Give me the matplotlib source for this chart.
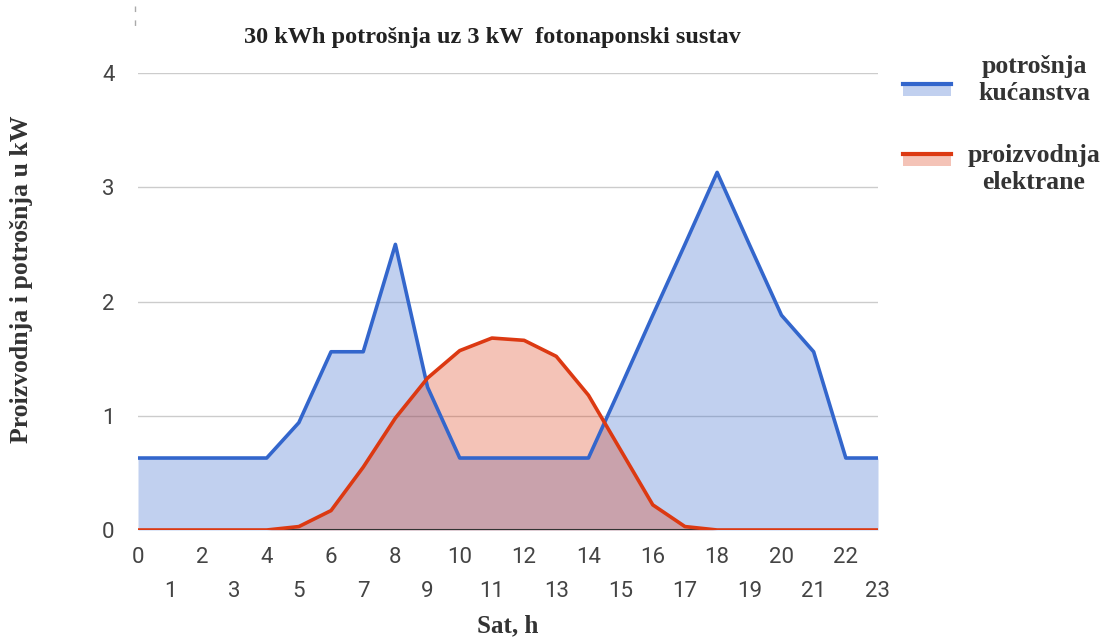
import matplotlib
matplotlib.use("Agg")
import matplotlib.pyplot as plt
from matplotlib.lines import Line2D
from matplotlib.patches import Rectangle

hours = list(range(24))
potrosnja = [0.63, 0.63, 0.63, 0.63, 0.63, 0.94, 1.56, 1.56, 2.50, 1.25, 0.63, 0.63,
             0.63, 0.63, 0.63, 1.25, 1.88, 2.50, 3.13, 2.50, 1.88, 1.56, 0.63, 0.63]
proizvodnja = [0.0, 0.0, 0.0, 0.0, 0.0, 0.03, 0.17, 0.55, 0.98, 1.33, 1.57, 1.68,
               1.66, 1.52, 1.18, 0.70, 0.22, 0.03, 0.0, 0.0, 0.0, 0.0, 0.0, 0.0]
yticks = [0, 1, 2, 3, 4]
title = "30 kWh potrošnja uz 3 kW  fotonaponski sustav"
xlabel = "Sat, h"
ylabel = "Proizvodnja i potrošnja u kW"
legend_labels = ["potrošnja\nkućanstva", "proizvodnja\nelektrane"]

BLUE = "#3366cc"
RED = "#dc3912"
SERIF = "Liberation Serif"
SANS = "Roboto"
W, H = 1109, 639

fig = plt.figure(figsize=(W/100, H/100), dpi=100)
ax = fig.add_axes([138/W, 1-530/H, (878-138)/W, (530-73)/H])

ax.fill_between(hours, potrosnja, 0, color=BLUE, alpha=0.3, linewidth=0, zorder=2)
ax.fill_between(hours, proizvodnja, 0, color=RED, alpha=0.3, linewidth=0, zorder=2)
ax.plot(hours, potrosnja, color=BLUE, lw=2.6, zorder=4)
ax.plot(hours, proizvodnja, color=RED, lw=2.6, zorder=4)

ax.set_xlim(0, 23)
ax.set_ylim(0, 4)
tick_kw = dict(fontfamily=SANS, fontsize=16, color="#444444")
ax.set_yticks(yticks)
ax.set_yticklabels([str(v) for v in yticks], **tick_kw)
ax.grid(axis="y", color="#cccccc", lw=1, zorder=1)
ax.axhline(0, color="#333333", lw=1.5, zorder=3)
ax.set_xticks([h for h in hours if h % 2 == 0])
ax.set_xticklabels([str(h) for h in hours if h % 2 == 0], **tick_kw)
ax.set_xticks([h for h in hours if h % 2 == 1], minor=True)
ax.set_xticklabels([str(h) for h in hours if h % 2 == 1], minor=True, **tick_kw)
ax.tick_params(axis="x", which="major", length=0, pad=12)
ax.tick_params(axis="x", which="minor", length=0, pad=37)
ax.tick_params(axis="y", length=0, pad=17)
for s in ax.spines.values():
    s.set_visible(False)

fig.text(508/W, 1-626/H, xlabel, ha="center", va="center", fontfamily=SERIF,
         fontweight="bold", fontsize=18, color="#333333")
fig.text(22/W, 1-279/H, ylabel, ha="center", va="center", rotation=90, fontfamily=SERIF,
         fontweight="bold", fontsize=18.5, color="#333333")
fig.text(492/W, 1-38/H, title, ha="center", va="center", fontfamily=SERIF,
         fontweight="bold", fontsize=17.5, color="#222222")

# small dashed artifact mark at top-left
fig.lines.append(Line2D([135/W, 135/W], [1-6/H, 1-26/H], transform=fig.transFigure,
                        color="#aaaaaa", lw=1, linestyle=(0, (4, 6))))

# legend
leg_y = [84, 154]
txt_y = [80, 169]
for col, lab, ytop, ty in zip([BLUE, RED], legend_labels, leg_y, txt_y):
    fig.patches.append(Rectangle((903/W, 1-(ytop+12)/H), 48/W, 12/H,
                                 transform=fig.transFigure, facecolor=col, alpha=0.3, lw=0))
    fig.lines.append(Line2D([903/W, 951/W], [1-ytop/H, 1-ytop/H],
                            transform=fig.transFigure, color=col, lw=3))
    fig.text(1034/W, 1-ty/H, lab, ha="center", va="center", fontfamily=SERIF,
             fontweight="bold", fontsize=18.5, color="#333333", linespacing=1.25)

fig.savefig("out.png", dpi=100, facecolor="white")
